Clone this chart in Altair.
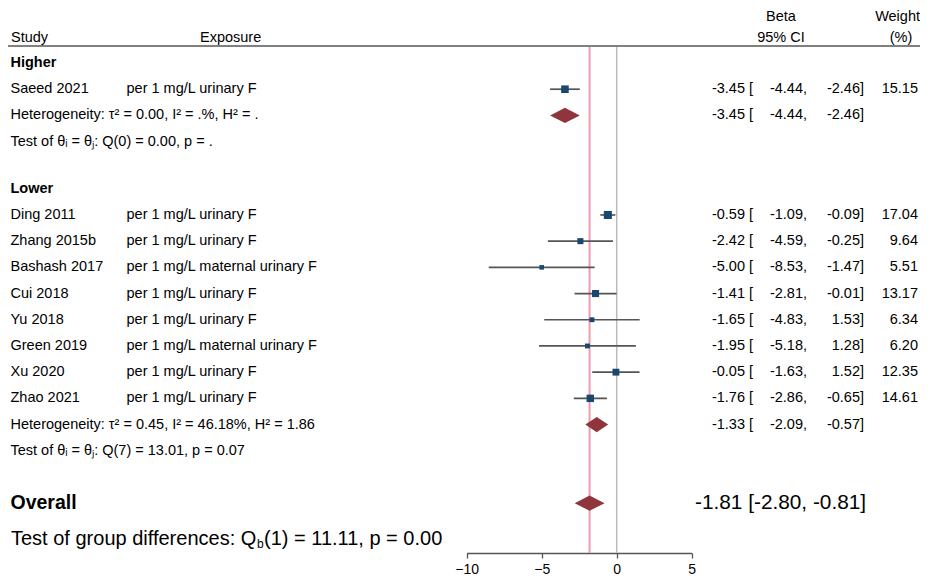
import altair as alt
import pandas as pd

# ---------------- data ----------------
studies = ["Saeed 2021", "Ding 2011", "Zhang 2015b", "Bashash 2017", "Cui 2018",
           "Yu 2018", "Green 2019", "Xu 2020", "Zhao 2021"]
exposures = ["per 1 mg/L urinary F", "per 1 mg/L urinary F", "per 1 mg/L urinary F",
             "per 1 mg/L maternal urinary F", "per 1 mg/L urinary F", "per 1 mg/L urinary F",
             "per 1 mg/L maternal urinary F", "per 1 mg/L urinary F", "per 1 mg/L urinary F"]
groups = ["Higher", "Lower", "Lower", "Lower", "Lower", "Lower", "Lower", "Lower", "Lower"]
beta = [-3.45, -0.59, -2.42, -5.00, -1.41, -1.65, -1.95, -0.05, -1.76]
ci_lo = [-4.44, -1.09, -4.59, -8.53, -2.81, -4.83, -5.18, -1.63, -2.86]
ci_hi = [-2.46, -0.09, -0.25, -1.47, -0.01, 1.53, 1.28, 1.52, -0.65]
weights = [15.15, 17.04, 9.64, 5.51, 13.17, 6.34, 6.20, 12.35, 14.61]

group_names = ["Higher", "Lower"]
group_beta = [-3.45, -1.33]
group_lo = [-4.44, -2.09]
group_hi = [-2.46, -0.57]
group_het = ["Heterogeneity: τ² = 0.00, I² = .%, H² = .",
             "Heterogeneity: τ² = 0.45, I² = 46.18%, H² = 1.86"]
group_test = ["Test of θᵢ = θⱼ: Q(0) = 0.00, p = .",
              "Test of θᵢ = θⱼ: Q(7) = 13.01, p = 0.07"]

overall_label = "Overall"
overall_beta = [-1.81]
overall_lo = [-2.80]
overall_hi = [-0.81]
group_diff = ["Test of group differences: Q", "b", "(1) = 11.11, p = 0.00"]

x_ticks = [-10, -5, 0, 5]

# ---------------- layout (row indices) ----------------
W, H = 912, 545
ROW_PX = 26.2
TOP_PX = 55
yscale = alt.Scale(domain=[-TOP_PX / ROW_PX, (H - TOP_PX) / ROW_PX], range=[0, H], nice=False, zero=False)
xscale = alt.Scale(domain=[-10, 5], range=[458.7, 683.7], nice=False, zero=False)
xaxis = alt.Axis(values=x_ticks, title=None, grid=False, tickSize=5, labelPadding=4,
                 domainColor="#555555", tickColor="#555555", domainWidth=1.3, tickWidth=1.3,
                 labelColor="#000000", labelFont="Liberation Sans", labelFontSize=14,
                 labelFlush=False)

study_rows, group_head_rows, het_rows, test_rows = [], [], [], []
r = 0.0
for g in group_names:
    group_head_rows.append(r)
    r += 1
    for i, gg in enumerate(groups):
        if gg == g:
            study_rows.append(r)
            r += 1
    het_rows.append(r)
    r += 1
    test_rows.append(r)
    r += 1
    r += 0.8
overall_row = test_rows[-1] + 2.0
diff_row = overall_row + 1.37

FONT = "Liberation Sans"
FS = 14.5

studies_df = pd.DataFrame({
    "study": studies, "exposure": exposures, "beta": beta, "lo": ci_lo, "hi": ci_hi,
    "w": weights, "row": study_rows,
    "t_est": [f"{b:.2f} [" for b in beta],
    "t_lo": [f"{v:.2f}," for v in ci_lo],
    "t_hi": [f"{v:.2f}]" for v in ci_hi],
    "t_w": [f"{v:.2f}" for v in weights],
})

group_df = pd.DataFrame({
    "name": group_names, "row": group_head_rows, "het": group_het, "test": group_test,
    "het_row": het_rows, "test_row": test_rows,
    "t_est": [f"{b:.2f} [" for b in group_beta],
    "t_lo": [f"{v:.2f}," for v in group_lo],
    "t_hi": [f"{v:.2f}]" for v in group_hi],
})

# diamonds: subgroup + overall
dia = []
HALF = 0.29
for name, b, lo, hi, rr in zip(group_names, group_beta, group_lo, group_hi, het_rows):
    dia += [{"g": name, "x": lo, "y1": rr, "y2": rr},
            {"g": name, "x": b, "y1": rr - HALF, "y2": rr + HALF},
            {"g": name, "x": hi, "y1": rr, "y2": rr}]
dia += [{"g": "Overall", "x": overall_lo[0], "y1": overall_row, "y2": overall_row},
        {"g": "Overall", "x": overall_beta[0], "y1": overall_row - HALF, "y2": overall_row + HALF},
        {"g": "Overall", "x": overall_hi[0], "y1": overall_row, "y2": overall_row}]
dia_df = pd.DataFrame(dia)

overall_df = pd.DataFrame({
    "beta": overall_beta, "row": [overall_row], "label": [overall_label],
    "txt": [f"{overall_beta[0]:.2f} [{overall_lo[0]:.2f}, {overall_hi[0]:.2f}]"],
})
zero_df = pd.DataFrame({"x": [0]})

header_df = pd.DataFrame({
    "txt": ["Study", "Exposure", "Beta", "95% CI", "Weight", "(%)"],
    "row": [-0.95, -0.95, -1.76, -0.97, -1.76, -0.97],
    "px": [3, 192, 773, 773, 912, 893],
    "al": ["left", "left", "center", "center", "right", "center"],
})

# ---------------- layers ----------------
Y = lambda f: alt.Y(f"{f}:Q", scale=yscale, axis=None)

header_line = alt.Chart(zero_df).mark_rule(color="#808080", strokeWidth=2).encode(
    x=alt.value(0), x2=alt.value(W), y=alt.value(38))

zero_line = alt.Chart(zero_df).mark_rule(color="#BBBBBB", strokeWidth=1.5).encode(
    x=alt.X("x:Q", scale=xscale, axis=xaxis), y=alt.value(39), y2=alt.value(H))

overall_line = alt.Chart(overall_df).mark_rule(color="#EE9AB2", strokeWidth=2).encode(
    x=alt.X("beta:Q", scale=xscale, axis=xaxis), y=alt.value(39), y2=alt.value(H))

ci = alt.Chart(studies_df).mark_rule(color="#555555", strokeWidth=1.7).encode(
    x=alt.X("lo:Q", scale=xscale, axis=xaxis), x2="hi:Q", y=Y("row"))

squares = alt.Chart(studies_df).mark_square(color="#1A476F", opacity=1, filled=True).encode(
    x=alt.X("beta:Q", scale=xscale, axis=xaxis), y=Y("row"),
    size=alt.Size("w:Q", scale=alt.Scale(domain=[0, 20], range=[0, 76]), legend=None))

diamonds = alt.Chart(dia_df).mark_area(color="#90353B", opacity=1, interpolate="linear").encode(
    x=alt.X("x:Q", scale=xscale, axis=xaxis),
    y=alt.Y("y1:Q", scale=yscale, axis=None, stack=None), y2="y2:Q", detail="g:N")


def txt(df, field, row, px, align="left", size=FS, weight="normal", dy=0):
    return alt.Chart(df).mark_text(align=align, baseline="middle", font=FONT, fontSize=size,
                                   fontWeight=weight, color="#000000", dy=dy).encode(
        x=alt.value(px), y=Y(row), text=f"{field}:N")


layers = [header_line, zero_line, overall_line, ci, squares, diamonds]

for _, hr in header_df.iterrows():
    layers.append(txt(pd.DataFrame([hr]), "txt", "row", hr["px"], align=hr["al"]))

layers += [
    txt(group_df, "name", "row", 2.5, weight="bold"),
    txt(group_df, "het", "het_row", 2.5),
    txt(group_df, "test", "test_row", 2.5),
    txt(group_df, "t_est", "het_row", 745, align="right"),
    txt(group_df, "t_lo", "het_row", 799, align="right"),
    txt(group_df, "t_hi", "het_row", 856, align="right"),
    txt(studies_df, "study", "row", 2.5),
    txt(studies_df, "exposure", "row", 118.5),
    txt(studies_df, "t_est", "row", 745, align="right"),
    txt(studies_df, "t_lo", "row", 799, align="right"),
    txt(studies_df, "t_hi", "row", 856, align="right"),
    txt(studies_df, "t_w", "row", 910, align="right"),
    txt(overall_df, "label", "row", 2.5, size=19.5, weight="bold"),
    txt(overall_df, "txt", "row", 687, size=20.8),
]

diff_df = pd.DataFrame({"a": [group_diff[0]], "b": [group_diff[1]], "c": [group_diff[2]],
                        "row": [diff_row]})
layers += [
    txt(diff_df, "a", "row", 3, size=20),
    txt(diff_df, "b", "row", 249, size=12, dy=5),
    txt(diff_df, "c", "row", 256, size=20),
]

chart = alt.layer(*layers).properties(
    width=W, height=H,
    autosize=alt.AutoSizeParams(type="none"),
    padding={"left": 0, "top": 0, "right": 0, "bottom": 28},
).configure_view(stroke=None)

chart.save("out.html", embed_options={"renderer": "svg", "actions": False})
